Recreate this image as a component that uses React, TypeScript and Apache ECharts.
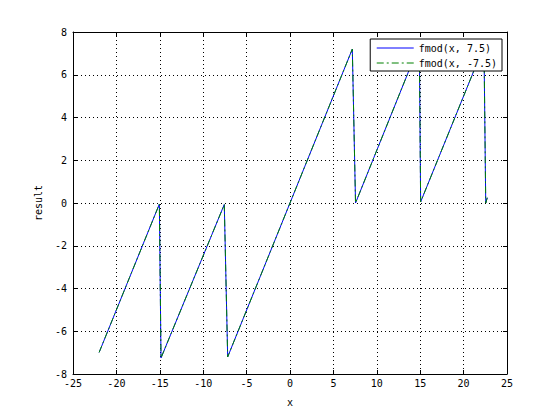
import React, { useEffect, useRef } from "react";
import * as echarts from "echarts";

// Breakpoints of the plotted curves (x values)
const xValues = [-21.99, -15.05, -14.86, -7.57, -7.18, 7.18, 7.55, 14.9, 15.05, 22.35, 22.55, 22.73];
// fmod(x, 7.5)
const fmodPosValues = [-6.99, -0.05, -7.25, -0.07, -7.2, 7.2, 0.0, 7.4, 0.05, 7.35, 0.0, 0.25];
// fmod(x, -7.5)
const fmodNegValues = [-6.99, -0.05, -7.25, -0.07, -7.2, 7.2, 0.0, 7.4, 0.05, 7.35, 0.0, 0.25];

const seriesNames = ["fmod(x, 7.5)", "fmod(x, -7.5)"];
const xTicks = { min: -25, max: 25, interval: 5 };
const yTicks = { min: -8, max: 8, interval: 2 };

const FONT = "DejaVu Sans Mono";

export default function App() {
  const ref = useRef<HTMLDivElement>(null);
  useEffect(() => {
    if (!ref.current) return;
    const chart = echarts.init(ref.current, null, { renderer: "svg" });
    const pos = xValues.map((x, i) => [x, fmodPosValues[i]]);
    const neg = xValues.map((x, i) => [x, fmodNegValues[i]]);
    const labelStyle = { color: "#000", fontFamily: FONT, fontSize: 10 };
    const edgeLine = { show: true, onZero: false, lineStyle: { color: "#000", width: 1 } };
    const tick = { show: true, inside: true, length: 4, lineStyle: { color: "#000" } };
    chart.setOption({
      animation: false,
      backgroundColor: "#fff",
      grid: { left: 73, right: 53, top: 32, bottom: 46, containLabel: false },
      legend: {
        orient: "vertical",
        right: 58,
        top: 39,
        backgroundColor: "#fff",
        borderColor: "#000",
        borderWidth: 1,
        borderRadius: 0,
        padding: [4, 5, 3, 6],
        itemGap: 5,
        itemWidth: 37,
        itemHeight: 12,
        textStyle: { ...labelStyle },
        itemStyle: { color: "transparent", borderWidth: 0 },
        lineStyle: { width: 1 },
        data: seriesNames,
      },
      xAxis: [
        {
          type: "value",
          min: xTicks.min,
          max: xTicks.max,
          interval: xTicks.interval,
          name: "x",
          nameLocation: "middle",
          nameGap: 23,
          nameTextStyle: { ...labelStyle },
          axisLine: edgeLine,
          axisTick: tick,
          axisLabel: { ...labelStyle, margin: 4 },
          splitLine: { show: true, lineStyle: { color: "#000", type: [1, 3], width: 1 } },
        },
        {
          type: "value",
          position: "top",
          min: xTicks.min,
          max: xTicks.max,
          interval: xTicks.interval,
          axisLine: edgeLine,
          axisTick: tick,
          axisLabel: { show: false },
          splitLine: { show: false },
        },
      ],
      yAxis: [
        {
          type: "value",
          min: yTicks.min,
          max: yTicks.max,
          interval: yTicks.interval,
          name: "result",
          nameLocation: "middle",
          nameGap: 30,
          nameTextStyle: { ...labelStyle },
          axisLine: edgeLine,
          axisTick: tick,
          axisLabel: { ...labelStyle, margin: 6 },
          splitLine: { show: true, lineStyle: { color: "#000", type: [1, 3], width: 1 } },
        },
        {
          type: "value",
          position: "right",
          min: yTicks.min,
          max: yTicks.max,
          interval: yTicks.interval,
          axisLine: edgeLine,
          axisTick: tick,
          axisLabel: { show: false },
          splitLine: { show: false },
        },
      ],
      series: [
        {
          name: seriesNames[0],
          type: "line",
          data: pos,
          showSymbol: false,
          symbol: "none",
          color: "#0000ff",
          lineStyle: { color: "#0000ff", width: 1 },
          z: 2,
        },
        {
          name: seriesNames[1],
          type: "line",
          data: neg,
          showSymbol: false,
          symbol: "none",
          color: "#008000",
          lineStyle: { color: "#008000", width: 1, type: [7, 3, 2, 3] },
          z: 3,
        },
      ],
    });
    return () => chart.dispose();
  }, []);
  return <div ref={ref} style={{ width: 560, height: 420, position: "absolute", left: 0, top: 0 }} />;
}
